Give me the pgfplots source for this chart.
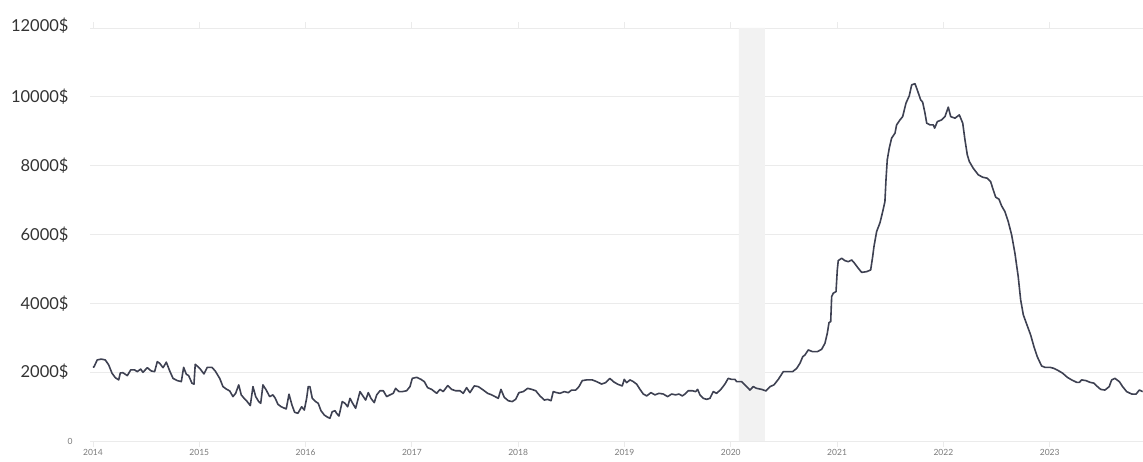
\documentclass[border=0pt]{standalone}
\usepackage{fontspec}
\setmainfont{Lato}
\usepackage{pgfplots}
\pgfplotsset{compat=1.18}
\usepackage{pgfplotstable}
\definecolor{lineC}{HTML}{3E4152}
\definecolor{gridC}{HTML}{EBEBEB}
\definecolor{shadeC}{HTML}{F2F2F2}
\definecolor{ylabC}{HTML}{333333}
\definecolor{xlabC}{HTML}{7A7A7A}
\pgfplotstableread{
x y
2014.000 2150
2014.009 2150
2014.040 2355
2014.078 2380
2014.116 2355
2014.148 2210
2014.179 1970
2014.210 1840
2014.242 1775
2014.257 1975
2014.282 1985
2014.323 1900
2014.355 2065
2014.392 2065
2014.417 2015
2014.449 2090
2014.470 1995
2014.511 2130
2014.548 2035
2014.580 2015
2014.605 2305
2014.627 2260
2014.659 2130
2014.690 2290
2014.722 2035
2014.753 1820
2014.793 1755
2014.831 1725
2014.853 2140
2014.878 1940
2014.900 1900
2014.931 1680
2014.950 1650
2014.962 2230
2015.004 2110
2015.044 1950
2015.075 2140
2015.119 2140
2015.150 2035
2015.192 1820
2015.223 1580
2015.254 1510
2015.286 1455
2015.317 1290
2015.342 1385
2015.371 1630
2015.395 1340
2015.427 1220
2015.451 1145
2015.480 1030
2015.505 1580
2015.531 1290
2015.559 1145
2015.578 1095
2015.599 1630
2015.630 1480
2015.662 1290
2015.693 1340
2015.715 1240
2015.740 1065
2015.771 995
2015.818 930
2015.844 1360
2015.872 1045
2015.897 835
2015.928 805
2015.963 995
2015.988 900
2016.010 1240
2016.025 1580
2016.041 1580
2016.063 1240
2016.095 1145
2016.119 1095
2016.145 880
2016.176 755
2016.208 690
2016.229 660
2016.251 850
2016.277 880
2016.292 805
2016.314 725
2016.345 1145
2016.371 1095
2016.396 995
2016.418 1240
2016.439 1115
2016.471 950
2016.512 1435
2016.543 1290
2016.565 1190
2016.590 1405
2016.615 1240
2016.646 1115
2016.669 1340
2016.700 1460
2016.731 1460
2016.763 1290
2016.794 1340
2016.825 1385
2016.847 1530
2016.879 1435
2016.910 1435
2016.951 1460
2016.982 1580
2017.004 1820
2017.045 1850
2017.086 1790
2017.117 1725
2017.148 1550
2017.186 1500
2017.233 1385
2017.264 1500
2017.295 1435
2017.337 1610
2017.374 1500
2017.412 1460
2017.452 1460
2017.483 1385
2017.515 1550
2017.546 1405
2017.587 1600
2017.625 1580
2017.672 1480
2017.713 1385
2017.751 1340
2017.782 1290
2017.813 1240
2017.838 1500
2017.869 1270
2017.907 1170
2017.944 1145
2017.976 1210
2018.007 1405
2018.048 1435
2018.089 1530
2018.127 1500
2018.165 1460
2018.205 1310
2018.246 1190
2018.277 1210
2018.309 1170
2018.330 1435
2018.362 1405
2018.393 1385
2018.434 1435
2018.471 1405
2018.503 1480
2018.541 1480
2018.572 1580
2018.603 1755
2018.644 1775
2018.697 1775
2018.738 1725
2018.785 1655
2018.823 1695
2018.863 1820
2018.895 1725
2018.936 1650
2018.979 1600
2018.998 1790
2019.020 1695
2019.052 1775
2019.083 1725
2019.115 1650
2019.146 1500
2019.177 1365
2019.209 1310
2019.249 1405
2019.287 1340
2019.324 1385
2019.365 1365
2019.406 1290
2019.444 1365
2019.481 1340
2019.513 1365
2019.544 1310
2019.569 1365
2019.600 1460
2019.638 1460
2019.670 1435
2019.688 1500
2019.710 1340
2019.741 1240
2019.773 1210
2019.804 1240
2019.835 1435
2019.867 1385
2019.907 1500
2019.945 1655
2019.976 1820
2020.008 1790
2020.039 1790
2020.055 1725
2020.102 1725
2020.133 1630
2020.180 1480
2020.211 1580
2020.243 1530
2020.290 1500
2020.331 1455
2020.369 1580
2020.406 1630
2020.447 1790
2020.494 2015
2020.541 2015
2020.582 2015
2020.620 2110
2020.651 2260
2020.677 2450
2020.698 2500
2020.729 2645
2020.770 2595
2020.814 2595
2020.855 2665
2020.886 2840
2020.908 3130
2020.924 3440
2020.940 3470
2020.949 4195
2020.964 4295
2020.990 4340
2021.002 4970
2021.011 5240
2021.043 5310
2021.074 5240
2021.105 5210
2021.137 5260
2021.159 5185
2021.199 5020
2021.231 4900
2021.278 4920
2021.316 4970
2021.335 5360
2021.347 5650
2021.372 6085
2021.404 6345
2021.429 6665
2021.450 6955
2021.460 7585
2021.472 8170
2021.491 8510
2021.513 8800
2021.545 8945
2021.560 9185
2021.592 9330
2021.617 9425
2021.648 9815
2021.679 10030
2021.702 10350
2021.733 10380
2021.754 10205
2021.786 9915
2021.805 9845
2021.827 9525
2021.843 9235
2021.874 9185
2021.905 9185
2021.918 9090
2021.943 9280
2021.984 9330
2022.015 9425
2022.046 9700
2022.069 9425
2022.109 9380
2022.150 9475
2022.182 9235
2022.203 8750
2022.225 8315
2022.244 8120
2022.281 7925
2022.328 7735
2022.369 7665
2022.413 7635
2022.444 7540
2022.469 7295
2022.492 7085
2022.523 7025
2022.548 6830
2022.579 6665
2022.610 6375
2022.642 5990
2022.673 5455
2022.704 4775
2022.727 4100
2022.752 3665
2022.783 3400
2022.821 3080
2022.852 2740
2022.883 2450
2022.924 2180
2022.956 2140
2023.003 2140
2023.040 2110
2023.081 2045
2023.122 1970
2023.166 1850
2023.207 1775
2023.254 1705
2023.279 1705
2023.301 1775
2023.341 1755
2023.379 1705
2023.417 1680
2023.442 1600
2023.479 1500
2023.520 1480
2023.560 1580
2023.583 1775
2023.614 1820
2023.655 1725
2023.686 1580
2023.724 1435
2023.771 1365
2023.812 1360
2023.843 1480
2023.875 1435
}\pricedata
\begin{document}
\begin{tikzpicture}
\useasboundingbox (-90pt,-21pt) rectangle (1053pt,441pt);
\begin{axis}[
  at={(0,0)}, anchor=south west,
  scale only axis, width=1053pt, height=413pt,
  xmin=2013.972, xmax=2023.878, ymin=0, ymax=12000,
  enlargelimits=false,
  scaled y ticks=false, scaled x ticks=false,
  axis line style={draw=none},
  /pgf/number format/assume math mode=true,
  xtick={2014,2015,2016,2017,2018,2019,2020,2021,2022,2023},
  xticklabels={2014,2015,2016,2017,2018,2019,2020,2021,2022,2023},
  xticklabel style={font=\fontsize{8.5}{9}\selectfont, text=xlabC, yshift=1pt},
  xtick style={draw=gridC, line width=0.8pt},
  tick align=outside,
  major tick length=6pt,
  ytick={2000,4000,6000,8000,10000,12000},
  yticklabels={2000\$,4000\$,6000\$,8000\$,10000\$,{\raisebox{6pt}{12000\$}}},
  yticklabel style={font=\fontsize{16.5}{17}\selectfont, text=ylabC, anchor=east, xshift=-12pt},
  ytick style={draw=none},
  extra y ticks={0},
  extra y tick labels={0},
  extra y tick style={yticklabel style={font=\fontsize{8.5}{9}\selectfont, text=xlabC, xshift=4pt}},
  ymajorgrids=true,
  grid style={draw=gridC, line width=0.8pt},
]
\addplot[fill=shadeC, draw=none] coordinates {(2020.077,0) (2020.077,12000) (2020.32,12000) (2020.32,0)} \closedcycle;
\addplot[lineC, line width=1.6pt, line join=round] table[x=x,y=y] {\pricedata};
\end{axis}
\end{tikzpicture}
\end{document}
